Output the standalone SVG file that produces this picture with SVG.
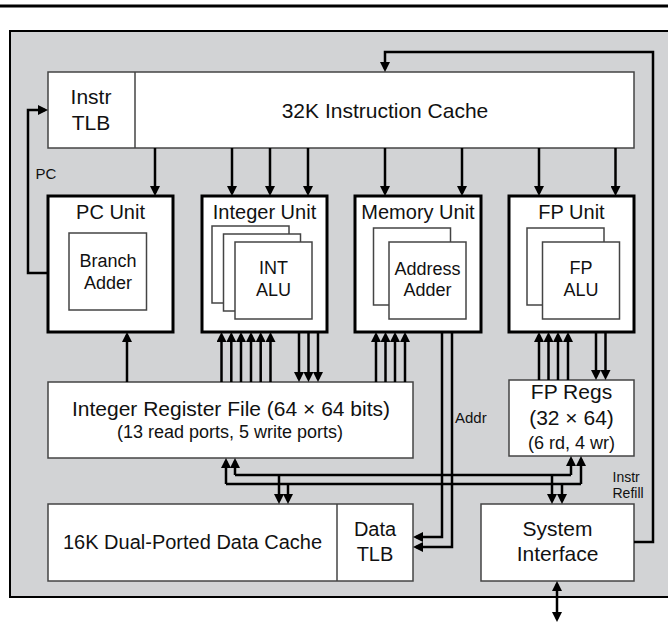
<svg xmlns="http://www.w3.org/2000/svg" width="668" height="626" viewBox="0 0 668 626">
<defs>
<marker id="ah" viewBox="0 0 10 10" markerUnits="userSpaceOnUse" markerWidth="10" markerHeight="10" refX="7" refY="5" orient="auto-start-reverse">
<path d="M0,0 L10,5 L0,10 z" fill="#000"/>
</marker>
</defs>
<style>
.bg{fill:#d2d3d5;stroke:#000;stroke-width:2}
.box{fill:#fff;stroke:#444;stroke-width:1.5}
.unit{fill:#fff;stroke:#000;stroke-width:3}
.in{fill:#fff;stroke:#444;stroke-width:1.5}
.c{fill:none;stroke:#000;stroke-width:2.5}
.a{fill:none;stroke:#000;stroke-width:2.5;marker-end:url(#ah)}
.b{fill:none;stroke:#000;stroke-width:2.5;marker-start:url(#ah);marker-end:url(#ah)}
text{font-family:"Liberation Sans",Arial,sans-serif;fill:#111;text-anchor:middle}
.t21{font-size:21px}
.t20{font-size:20px}
.t18{font-size:18px}
.t15{font-size:15px;text-anchor:start}
.t14{font-size:14px;text-anchor:start}
</style>
<line x1="0" y1="6" x2="668" y2="6" stroke="#000" stroke-width="3"/>
<rect class="bg" x="10" y="31" width="680" height="566"/>

<g id="icache">
<rect class="box" x="48" y="72" width="586" height="76"/>
<line x1="135" y1="72" x2="135" y2="148" stroke="#444" stroke-width="1.5"/>
<text class="t21" x="91" y="103.5">Instr</text>
<text class="t21" x="91" y="129.5">TLB</text>
<text class="t21" x="385" y="117.5">32K Instruction Cache</text>
</g>

<g id="pcunit">
<rect class="unit" x="48" y="196" width="125" height="136"/>
<text class="t20" x="110.5" y="219.3">PC Unit</text>
<rect class="in" x="69" y="233" width="77.5" height="77"/>
<text class="t18" x="108" y="267">Branch</text>
<text class="t18" x="108" y="289">Adder</text>
</g>

<g id="intunit">
<rect class="unit" x="202" y="196" width="125" height="136"/>
<text class="t20" x="264.5" y="219.3">Integer Unit</text>
<rect class="in" x="212" y="226" width="77" height="77"/>
<rect class="in" x="223.5" y="234" width="77" height="77"/>
<rect class="in" x="235" y="242" width="77" height="77"/>
<text class="t18" x="273.5" y="274">INT</text>
<text class="t18" x="273.5" y="296">ALU</text>
</g>

<g id="memunit">
<rect class="unit" x="355" y="196" width="126" height="136"/>
<text class="t20" x="418" y="219.3">Memory Unit</text>
<rect class="in" x="373.5" y="228" width="77" height="77"/>
<rect class="in" x="389" y="242" width="77" height="77"/>
<text class="t18" x="427.5" y="274.5">Address</text>
<text class="t18" x="427.5" y="296">Adder</text>
</g>

<g id="fpunit">
<rect class="unit" x="509" y="196" width="125" height="136"/>
<text class="t20" x="571.5" y="219.3">FP Unit</text>
<rect class="in" x="527" y="228" width="77" height="77"/>
<rect class="in" x="542.5" y="242" width="77" height="77"/>
<text class="t18" x="581" y="274">FP</text>
<text class="t18" x="581" y="296">ALU</text>
</g>

<g id="intregs">
<rect class="box" x="48" y="382" width="365" height="76"/>
<text class="t21" x="231" y="415.7">Integer Register File (64 × 64 bits)</text>
<text class="t18" x="230" y="438">(13 read ports, 5 write ports)</text>
</g>

<g id="fpregs">
<rect class="box" x="509" y="380" width="125" height="76"/>
<text class="t21" x="571.5" y="399">FP Regs</text>
<text class="t21" x="571.5" y="425">(32 × 64)</text>
<text class="t18" x="571.5" y="448.5">(6 rd, 4 wr)</text>
</g>

<g id="dcache">
<rect class="box" x="48" y="504" width="365" height="77"/>
<line x1="337" y1="504" x2="337" y2="581" stroke="#444" stroke-width="1.5"/>
<text class="t20" x="192.5" y="548.5">16K Dual-Ported Data Cache</text>
<text class="t20" x="375" y="535.5">Data</text>
<text class="t20" x="375" y="560.5">TLB</text>
</g>

<g id="sysif">
<rect class="box" x="481" y="504" width="153" height="77"/>
<text class="t21" x="557.5" y="536">System</text>
<text class="t21" x="557.5" y="561">Interface</text>
</g>

<g id="connectors">
<path class="a" d="M155,148 V193"/>
<path class="a" d="M232,148 V193"/>
<path class="a" d="M270,148 V193"/>
<path class="a" d="M308,148 V193"/>
<path class="a" d="M385,148 V193"/>
<path class="a" d="M462,148 V193"/>
<path class="a" d="M539,148 V193"/>
<path class="a" d="M615.5,148 V193"/>
<path class="a" d="M48,273 H28 V110 H45"/>
<path class="a" d="M634,542 H653 V52 H385 V69"/>
<path class="a" d="M127,382 V335"/>
<path class="a" d="M221.5,382 V335"/>
<path class="a" d="M231.3,382 V335"/>
<path class="a" d="M241,382 V335"/>
<path class="a" d="M251,382 V335"/>
<path class="a" d="M260.7,382 V335"/>
<path class="a" d="M270.5,382 V335"/>
<path class="a" d="M299,332 V379"/>
<path class="a" d="M308.5,332 V379"/>
<path class="a" d="M318,332 V379"/>
<path class="a" d="M376,382 V335"/>
<path class="a" d="M385.5,382 V335"/>
<path class="a" d="M395,382 V335"/>
<path class="a" d="M405,382 V335"/>
<path class="a" d="M539,380 V335"/>
<path class="a" d="M548.5,380 V335"/>
<path class="a" d="M558,380 V335"/>
<path class="a" d="M568,380 V335"/>
<path class="a" d="M596,332 V377"/>
<path class="a" d="M605.5,332 V377"/>
<path class="a" d="M442,332 V537 H416"/>
<path class="a" d="M452,332 V547 H416"/>
<path class="c" d="M235,475 H571"/>
<path class="c" d="M226,484 H581"/>
<path class="a" d="M235,475 V461"/>
<path class="a" d="M571,475 V459"/>
<path class="a" d="M279,475 V501"/>
<path class="a" d="M552,475 V501"/>
<path class="a" d="M226,484 V461"/>
<path class="a" d="M581,484 V459"/>
<path class="a" d="M288,484 V501"/>
<path class="a" d="M562,484 V501"/>
<path class="b" d="M557,584 V619"/>
</g>

<g id="labels">
<text class="t15" x="35.5" y="178.5">PC</text>
<text class="t15" x="455" y="422.5">Addr</text>
<text class="t14" x="612.5" y="481.5">Instr</text>
<text class="t14" x="612.5" y="498">Refill</text>
</g>
</svg>
